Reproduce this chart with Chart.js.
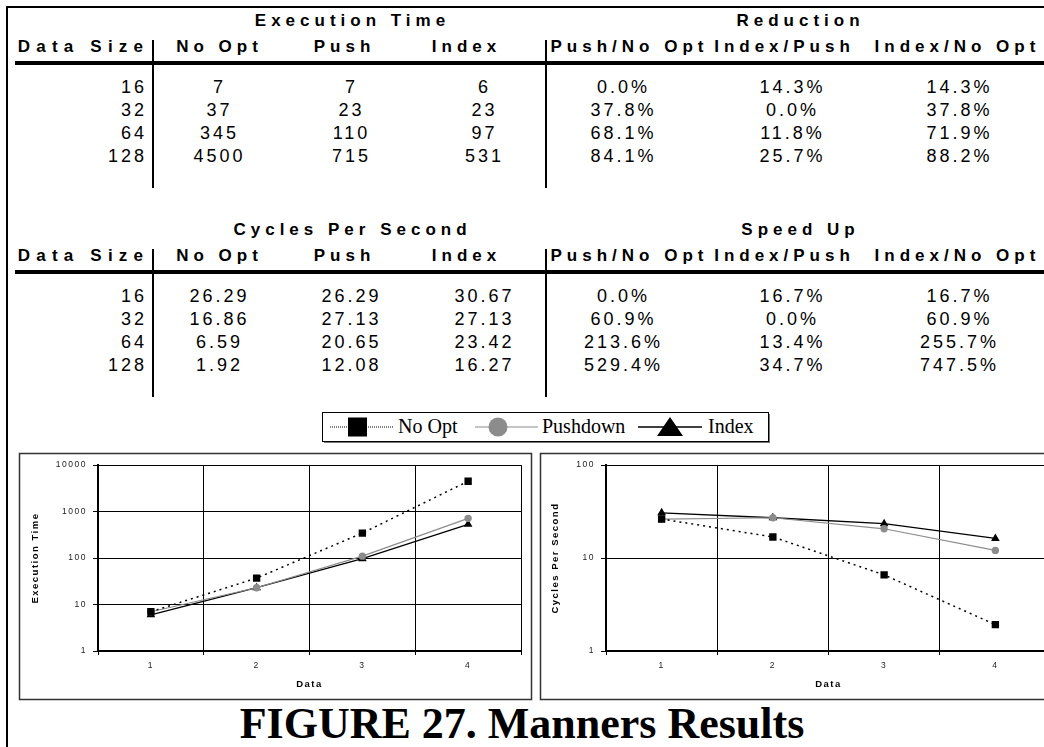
<!DOCTYPE html>
<html>
<head>
<meta charset="utf-8">
<script src="https://cdn.jsdelivr.net/npm/chart.js@4.4.0/dist/chart.umd.min.js"></script>
<style>
    html, body { margin: 0; padding: 0; background: #fff; }
    #page { position: relative; width: 1044px; height: 747px; overflow: hidden; }
    #overlay { position: absolute; left: 0; top: 0; }
    canvas { position: absolute; }
    #leftChart { left: 20px; top: 454px; }
    #rightChart { left: 541px; top: 454px; }
</style>
</head>
<body>
<div id="page">
    <svg id="overlay" width="1044" height="747"></svg>
    <canvas id="leftChart" width="511" height="245"></canvas>
    <canvas id="rightChart" width="520" height="245"></canvas>
</div>
<script>
// data
const dataSizes = ["16", "32", "64", "128"];

const execNoOpt = [7, 37, 345, 4500];
const execPush = [7, 23, 110, 715];
const execIndex = [6, 23, 97, 531];
const reductionPushNoOpt = ["0.0%", "37.8%", "68.1%", "84.1%"];
const reductionIndexPush = ["14.3%", "0.0%", "11.8%", "25.7%"];
const reductionIndexNoOpt = ["14.3%", "37.8%", "71.9%", "88.2%"];

const cpsNoOpt = [26.29, 16.86, 6.59, 1.92];
const cpsPush = [26.29, 27.13, 20.65, 12.08];
const cpsIndex = [30.67, 27.13, 23.42, 16.27];
const speedPushNoOpt = ["0.0%", "60.9%", "213.6%", "529.4%"];
const speedIndexPush = ["16.7%", "0.0%", "13.4%", "34.7%"];
const speedIndexNoOpt = ["16.7%", "60.9%", "255.7%", "747.5%"];

const leftHeaders = ["Data Size", "No Opt", "Push", "Index"];
const rightHeaders = ["Push/No Opt", "Index/Push", "Index/No Opt"];
const seriesNames = ["No Opt", "Pushdown", "Index"];
const xLabels = ["1", "2", "3", "4"];
const execTicks = [1, 10, 100, 1000, 10000];
const cpsTicks = [1, 10, 100];

const NS = "http://www.w3.org/2000/svg";
const svg = document.getElementById("overlay");
const SANS = "'Liberation Sans', Arial, sans-serif";
const SERIF = "'Liberation Serif', 'Times New Roman', serif";

function el(name, attrs) {
    const node = document.createElementNS(NS, name);
    for (const k in attrs) node.setAttribute(k, attrs[k]);
    svg.appendChild(node);
    return node;
}

function text(str, x, y, opts) {
    const ls = opts.ls || 0;
    const anchor = opts.anchor || "start";
    // letter-spacing leaves a trailing gap, shift so the glyphs sit where they should
    let dx = 0;
    if (anchor === "middle") dx = ls / 2;
    if (anchor === "end") dx = ls;
    const t = el("text", {
        x: x + dx, y: y,
        "text-anchor": anchor,
        "font-family": opts.family || SANS,
        "font-size": opts.size,
        "font-weight": opts.weight || "normal",
        "letter-spacing": ls,
        fill: opts.color || "#000"
    });
    t.textContent = str;
}

function line(x1, y1, x2, y2, w, color, dash) {
    const attrs = { x1: x1, y1: y1, x2: x2, y2: y2, stroke: color || "#000", "stroke-width": w };
    if (dash) attrs["stroke-dasharray"] = dash;
    el("line", attrs);
}

// column anchors (headers / values)
const headX = [143, 217, 342, 464, 627, 782, 955];
const valX = [144, 218, 350, 483, 622, 791, 958];

function drawTable(top, leftTitle, rightTitle, cols) {
    const bold = { size: 17, weight: "bold", ls: 5, anchor: "middle" };
    text(leftTitle, 350, top, bold);
    text(rightTitle, 798, top, bold);

    const heads = leftHeaders.concat(rightHeaders);
    heads.forEach((h, i) => {
        const opt = Object.assign({}, bold, i === 0 ? { anchor: "end", ls: 6.2 } : {});
        text(h, headX[i], top + 26, opt);
    });

    line(15, top + 37, 1044, top + 37, 4);
    line(153, top + 14, 153, top + 162, 2);
    line(546, top + 14, 546, top + 162, 2);

    dataSizes.forEach((size, r) => {
        const y = top + 67 + r * 23;
        text(size, valX[0], y, { size: 18, ls: 3, anchor: "end" });
        cols.forEach((col, c) => {
            text(col[r], valX[c + 1], y, { size: 18, ls: 3, anchor: "middle" });
        });
    });
}

function drawPage() {
    // outer frame
    line(7, 6, 7, 747, 2);
    line(6, 7, 1044, 7, 2);

    drawTable(26, "Execution Time", "Reduction", [
        execNoOpt.map(String), execPush.map(String), execIndex.map(String),
        reductionPushNoOpt, reductionIndexPush, reductionIndexNoOpt
    ]);
    drawTable(235, "Cycles Per Second", "Speed Up", [
        cpsNoOpt.map(v => v.toFixed(2)), cpsPush.map(v => v.toFixed(2)), cpsIndex.map(v => v.toFixed(2)),
        speedPushNoOpt, speedIndexPush, speedIndexNoOpt
    ]);

    // legend
    el("rect", { x: 324, y: 414, width: 446, height: 29, fill: "#777" });
    el("rect", { x: 322.5, y: 412.5, width: 446, height: 29, fill: "#fff", stroke: "#000", "stroke-width": 1 });
    line(330, 427, 393, 427, 1, "#000", "1,1");
    el("rect", { x: 348, y: 417.5, width: 19, height: 19, fill: "#000" });
    text(seriesNames[0], 398, 433, { size: 20, family: SERIF });
    line(475, 427, 538, 427, 1.2, "#8c8c8c");
    el("circle", { cx: 498, cy: 427, r: 9.5, fill: "#8c8c8c" });
    text(seriesNames[1], 542, 433, { size: 20, family: SERIF });
    line(638, 427, 702, 427, 1.5, "#000");
    el("polygon", { points: "657,436 683,436 670,417", fill: "#000" });
    text(seriesNames[2], 708, 433, { size: 20, family: SERIF });

    // chart frames
    el("rect", { x: 19.5, y: 453.5, width: 512, height: 246, fill: "none", stroke: "#333", "stroke-width": 1.5 });
    el("rect", { x: 540.5, y: 453.5, width: 520, height: 246, fill: "none", stroke: "#333", "stroke-width": 1.5 });

    text("FIGURE 27. Manners Results", 522, 738, { size: 44, weight: "bold", family: SERIF, anchor: "middle" });
}

const spacingPlugin = {
    id: "spacing",
    beforeDraw(chart) {
        chart.ctx.letterSpacing = "1.5px";
    }
};

function lineChart(canvasId, values, ticks, yTitle, yWidth, titlePad) {
    const ctx = document.getElementById(canvasId).getContext("2d");
    return new Chart(ctx, {
        type: "line",
        data: {
            labels: xLabels,
            datasets: [
                {
                    label: seriesNames[0], data: values[0],
                    borderColor: "#000", borderWidth: 1.5, borderDash: [2, 4],
                    pointStyle: "rect", pointRadius: 5.2, pointBackgroundColor: "#000", pointBorderWidth: 0
                },
                {
                    label: seriesNames[1], data: values[1],
                    borderColor: "#8c8c8c", borderWidth: 1.2,
                    pointStyle: "circle", pointRadius: 3.7, pointBackgroundColor: "#8c8c8c", pointBorderWidth: 0
                },
                {
                    label: seriesNames[2], data: values[2],
                    borderColor: "#000", borderWidth: 1.3,
                    pointStyle: "triangle", pointRadius: 5, pointBackgroundColor: "#000", pointBorderWidth: 0
                }
            ]
        },
        options: {
            responsive: false,
            animation: false,
            devicePixelRatio: 1,
            layout: { padding: { top: 8, right: 10, left: 0, bottom: 0 } },
            plugins: { legend: { display: false }, tooltip: { enabled: false } },
            elements: { line: { tension: 0 } },
            scales: {
                x: {
                    type: "category",
                    offset: true,
                    grid: { offset: true, color: "#000", lineWidth: 1, tickLength: 4 },
                    border: { color: "#000", width: 2 },
                    ticks: { color: "#222", font: { size: 8.5, family: SANS }, padding: 6, maxRotation: 0 },
                    title: { display: true, text: "Data", color: "#000", font: { size: 9.5, weight: "bold", family: SANS }, padding: { top: 0, bottom: 9.3 } },
                    afterFit: s => { s.height = 48; }
                },
                y: {
                    type: "logarithmic",
                    min: ticks[0],
                    max: ticks[ticks.length - 1],
                    afterBuildTicks: s => { s.ticks = ticks.map(v => ({ value: v })); },
                    grid: { color: "#000", lineWidth: 1, tickLength: 5 },
                    border: { color: "#000", width: 2 },
                    ticks: { color: "#222", font: { size: 8.5, family: SANS }, padding: 6, callback: v => String(v) },
                    title: { display: true, text: yTitle, color: "#000", font: { size: 9.5, weight: "bold", family: SANS }, padding: { top: titlePad, bottom: 0 } },
                    afterFit: s => { s.width = yWidth; }
                }
            }
        },
        plugins: [spacingPlugin]
    });
}

drawPage();
lineChart("leftChart", [execNoOpt, execPush, execIndex], execTicks, "Execution Time", 78, 9.3);
lineChart("rightChart", [cpsNoOpt, cpsPush, cpsIndex], cpsTicks, "Cycles Per Second", 65, 8.3);
</script>
</body>
</html>
